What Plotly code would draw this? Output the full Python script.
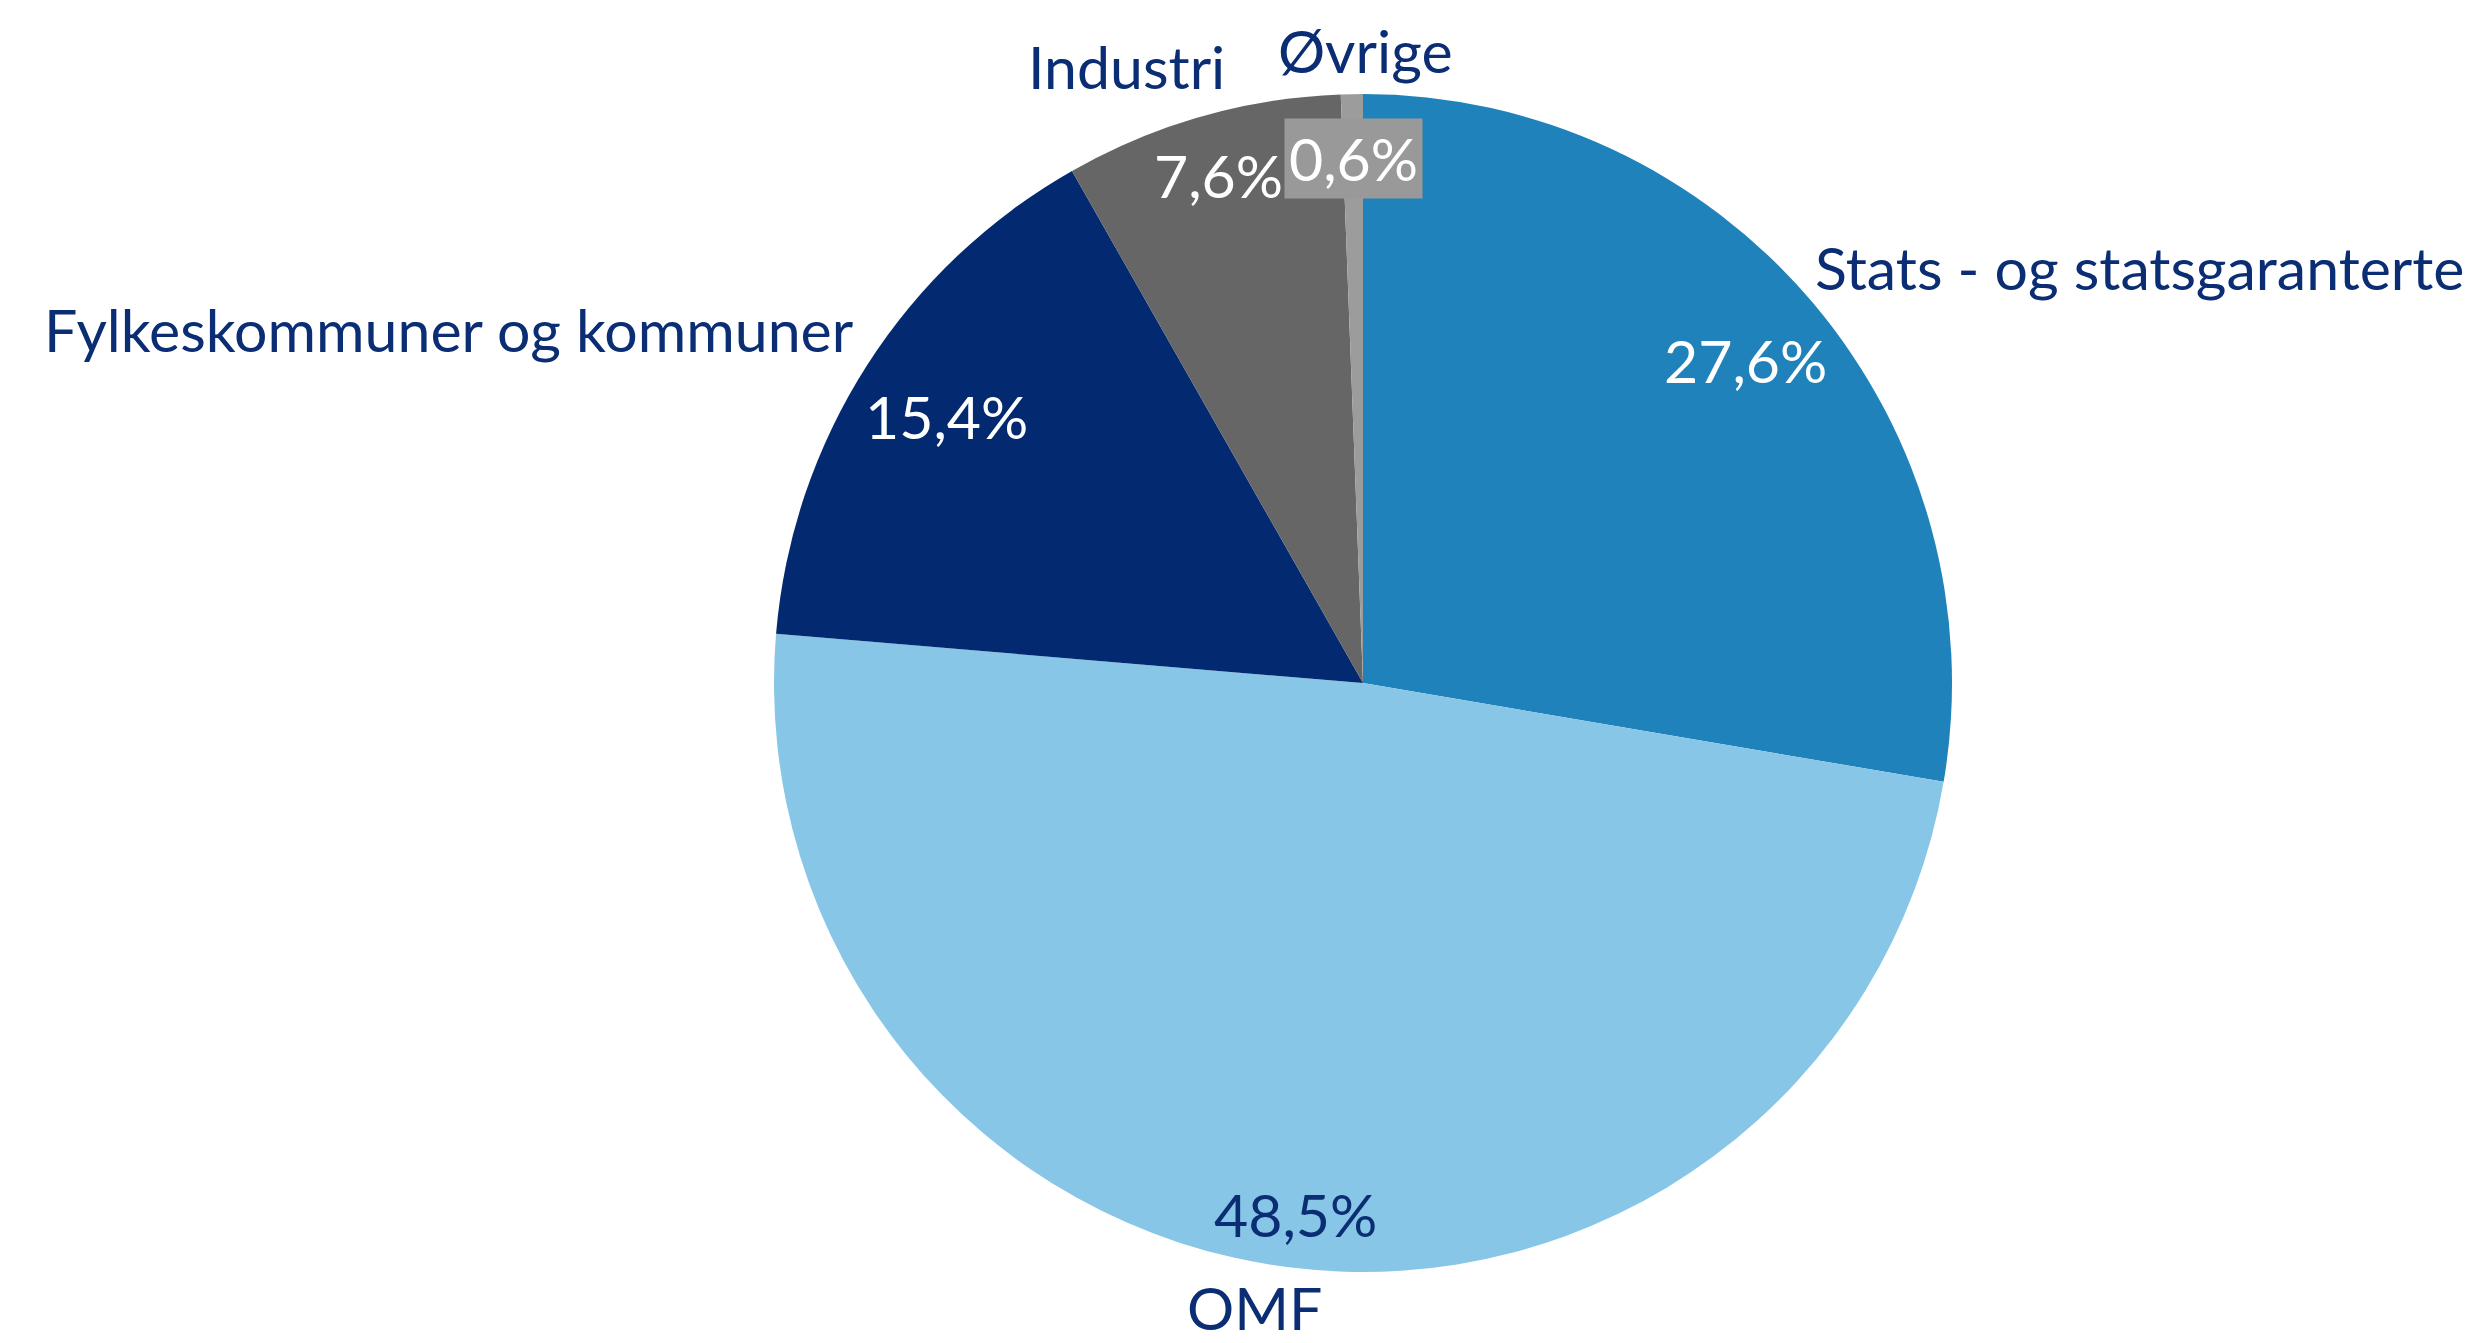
import math
import plotly.graph_objects as go

# ---- data ----
categories = ["Stats - og statsgaranterte", "OMF", "Fylkeskommuner og kommuner", "Industri", "Øvrige"]
values = [27.6, 48.5, 15.4, 7.6, 0.6]
pct_labels = ["27,6%", "48,5%", "15,4%", "7,6%", "0,6%"]

# ---- style ----
colors = ["#1F82BB", "#87C6E6", "#032A70", "#666666", "#9C9C9C"]
pct_colors = ["white", "#0A2D74", "white", "white", "white"]
pct_bg = [None, None, None, None, "#999999"]
pct_radius = [0.85, 0.91, 0.84, 0.895, 0.89]
name_shift = [(326, 36), (-34, -40), (-418, 36), (-75, 50), (14, 44)]
FONT = "Lato"
FS = 59
TXT = "#0A2D74"

W, H = 2476, 1343
cx, cy, R = 1355, 675, 589  # pie placement (px, page has 8px body margin)
dom_x = [(cx - R) / W, (cx + R) / W]
dom_y = [1 - (cy + R) / H, 1 - (cy - R) / H]

fig = go.Figure(go.Pie(
    labels=categories, values=values, sort=False, direction="clockwise", rotation=0,
    marker=dict(colors=colors, line=dict(width=0)), textinfo="none", hoverinfo="label+percent",
    showlegend=False, domain=dict(x=dom_x, y=dom_y),
))

total = sum(values)
cum = 0.0
annotations = []
for i, v in enumerate(values):
    mid = (cum + v / 2) / total * 2 * math.pi
    cum += v
    s, c = math.sin(mid), math.cos(mid)
    # percentage label
    k = pct_radius[i]
    px, py = cx + R * k * s, cy - R * k * c
    ann = dict(x=px / W, y=1 - py / H, xref="paper", yref="paper", text=pct_labels[i],
               showarrow=False, xanchor="center", yanchor="middle",
               font=dict(family=FONT, size=FS, color=pct_colors[i]))
    if pct_bg[i]:
        ann.update(bgcolor=pct_bg[i], borderpad=4)
    annotations.append(ann)
    # category label
    rx, ry = cx + R * s, cy - R * c
    dx, dy = name_shift[i]
    annotations.append(dict(x=(rx + dx) / W, y=1 - (ry - dy) / H, xref="paper", yref="paper",
                            text=categories[i], showarrow=False, xanchor="center", yanchor="middle",
                            font=dict(family=FONT, size=FS, color=TXT)))

fig.update_layout(width=W, height=H, margin=dict(l=0, r=0, t=0, b=0),
                  paper_bgcolor="white", plot_bgcolor="white", annotations=annotations)
fig.write_html("out.html")
